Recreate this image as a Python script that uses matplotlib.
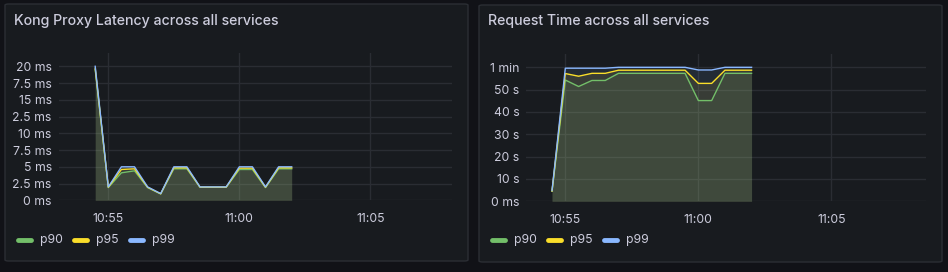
import matplotlib
matplotlib.use("Agg")
import matplotlib.pyplot as plt
import matplotlib.dates as mdates
import pandas as pd
from matplotlib.patches import FancyBboxPatch
from matplotlib.lines import Line2D
from matplotlib.ticker import FixedLocator, FixedFormatter

plt.rcParams['font.family'] = ['Inter', 'DejaVu Sans']

# sample times (every 30 s)
times = pd.to_datetime(["2024-01-01 " + t for t in [
    "10:54:30", "10:55:00", "10:55:30", "10:56:00", "10:56:30", "10:57:00",
    "10:57:30", "10:58:00", "10:58:30", "10:59:00", "10:59:30", "11:00:00",
    "11:00:30", "11:01:00", "11:01:30", "11:02:00"]])

# Kong proxy latency (ms)
lat_p90 = [19.5, 1.9, 4.1, 4.4, 1.9, 0.95, 4.7, 4.7, 1.95, 1.95, 1.95, 4.6, 4.6, 1.9, 4.7, 4.7]
lat_p95 = [19.7, 1.95, 4.6, 4.7, 1.95, 0.97, 4.85, 4.85, 1.97, 1.97, 1.97, 4.8, 4.8, 1.95, 4.85, 4.85]
lat_p99 = [20, 2, 5, 5, 2, 1, 5, 5, 2, 2, 2, 5, 5, 2, 5, 5]

# request time (s)
req_p90 = [4.5, 54.3, 51.4, 54.1, 54.1, 57.3, 57.3, 57.3, 57.3, 57.3, 57.3, 45.1, 45.1, 57.3, 57.3, 57.3]
req_p95 = [4.6, 57.2, 56.0, 57.3, 57.3, 58.7, 58.7, 58.7, 58.7, 58.7, 58.7, 52.8, 52.8, 58.7, 58.7, 58.7]
req_p99 = [4.8, 59.6, 59.6, 59.6, 59.6, 60.0, 60.0, 60.0, 60.0, 60.0, 60.0, 58.8, 58.8, 60.0, 60.0, 60.0]

lat_ticks = [0, 2.5, 5, 7.5, 10, 12.5, 15, 17.5, 20]
lat_labels = ["0 ms", "2.5 ms", "5 ms", "7.5 ms", "10 ms", "2.5 ms", "15 ms", "7.5 ms", "20 ms"]
req_ticks = [0, 10, 20, 30, 40, 50, 60]
req_labels = ["0 ms", "10 s", "20 s", "30 s", "40 s", "50 s", "1 min"]

series_names = ["p90", "p95", "p99"]
colors = ["#73bf69", "#fade2a", "#8ab8ff"]

W, H = 948, 272
BG = "#111217"
PANEL = "#181b1f"
TEXT = "#ccccdc"
GRID = "#2a2d33"

fig = plt.figure(figsize=(W / 100, H / 100), dpi=100, facecolor=BG)


def fx(x):
    return x / W


def fy(y):
    return 1 - y / H


def panel(x0, y0, x1, y1, title):
    fig.patches.append(FancyBboxPatch(
        (fx(x0), fy(y1)), fx(x1 - x0), (y1 - y0) / H,
        boxstyle="round,pad=0,rounding_size=0.004", transform=fig.transFigure,
        facecolor=PANEL, edgecolor="#2b2e34", linewidth=1, zorder=-5))
    fig.text(fx(x0 + 9), fy(21), title, color=TEXT, fontsize=10.2,
             fontweight="medium", va="center", ha="left")


def chart(left, right, zero_y, top_y, ymax_val, ymax_px, xmin, xmax,
          data, ticks, labels):
    ax = fig.add_axes([fx(left), fy(zero_y), fx(right - left), (zero_y - top_y) / H])
    ax.set_facecolor("none")
    for d, c in zip(data, colors):
        ax.fill_between(times, d, 0, color=c, alpha=0.1, linewidth=0)
        ax.plot(times, d, color=c, linewidth=1)
    top_val = ymax_val * (zero_y - top_y) / (zero_y - ymax_px)
    ax.set_ylim(0, top_val)
    ax.set_xlim(pd.Timestamp(xmin), pd.Timestamp(xmax))
    ax.yaxis.set_major_locator(FixedLocator(ticks))
    ax.yaxis.set_major_formatter(FixedFormatter(labels))
    ax.xaxis.set_major_locator(mdates.MinuteLocator(byminute=[55, 0, 5]))
    ax.xaxis.set_major_formatter(mdates.DateFormatter("%H:%M"))
    ax.grid(True, color=GRID, linewidth=1)
    ax.set_axisbelow(True)
    for s in ax.spines.values():
        s.set_visible(False)
    ax.tick_params(length=0, colors=TEXT, labelsize=8.8, pad=5)
    ax.tick_params(axis="x", pad=9)
    return ax


# left panel
panel(5, 4, 468, 261, "Kong Proxy Latency across all services")
chart(58.7, 452.3, 200.3, 53.3, 20, 66.3,
      "2024-01-01 10:53:06.4", "2024-01-01 11:08:07.8",
      [lat_p90, lat_p95, lat_p99], lat_ticks, lat_labels)

# right panel
panel(479, 5, 942, 262, "Request Time across all services")
chart(526.3, 926.3, 201.3, 54.3, 60, 67.3,
      "2024-01-01 10:53:32", "2024-01-01 11:08:34",
      [req_p90, req_p95, req_p99], req_ticks, req_labels)

# legends
for base, ly in [(18, 240), (492, 240)]:
    x = base
    for name, c in zip(series_names, colors):
        fig.add_artist(Line2D([fx(x), fx(x + 13)], [fy(ly), fy(ly)], transform=fig.transFigure,
                              color=c, linewidth=3.5, solid_capstyle="round"))
        fig.text(fx(x + 22), fy(ly), name, color=TEXT, fontsize=8.8, va="center", ha="left")
        x += 56

fig.savefig("out.png", dpi=100, facecolor=BG)
